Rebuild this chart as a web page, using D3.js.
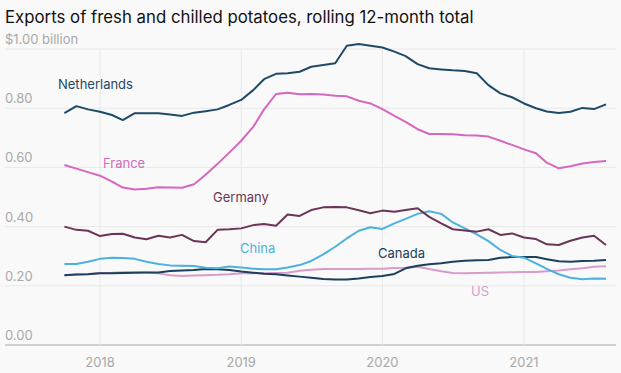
<!DOCTYPE html>
<html>
<head>
<meta charset="utf-8">
<script src="https://cdn.jsdelivr.net/npm/d3@7"></script>
<style>
  body { margin: 0; background: #f9f9f9; }
  svg { display: block; font-family: Inter, "Noto Sans", sans-serif; }
</style>
</head>
<body>
<script>
// Monthly rolling 12-month totals, Oct 2017 - Aug 2021, in $ billion
const startMonth = new Date(2017, 9, 1);

const netherlands = [0.783, 0.807, 0.796, 0.788, 0.777, 0.760, 0.783, 0.783, 0.783, 0.779, 0.774, 0.785,
  0.790, 0.796, 0.811, 0.828, 0.861, 0.898, 0.916, 0.918, 0.923, 0.940, 0.946, 0.952,
  1.011, 1.017, 1.011, 1.005, 0.991, 0.976, 0.949, 0.935, 0.931, 0.928, 0.926, 0.918,
  0.878, 0.850, 0.837, 0.816, 0.800, 0.789, 0.784, 0.788, 0.801, 0.797, 0.813];

const france = [0.608, 0.596, 0.584, 0.572, 0.552, 0.532, 0.525, 0.528, 0.533, 0.532, 0.531, 0.543,
  0.575, 0.612, 0.650, 0.690, 0.737, 0.796, 0.848, 0.852, 0.847, 0.848, 0.846, 0.842,
  0.840, 0.825, 0.816, 0.797, 0.774, 0.754, 0.729, 0.713, 0.713, 0.712, 0.709, 0.708,
  0.704, 0.690, 0.676, 0.661, 0.648, 0.616, 0.597, 0.604, 0.613, 0.618, 0.622];

const germany = [0.400, 0.389, 0.386, 0.368, 0.375, 0.376, 0.363, 0.357, 0.369, 0.363, 0.372, 0.351,
  0.347, 0.389, 0.391, 0.394, 0.405, 0.409, 0.403, 0.441, 0.436, 0.456, 0.465, 0.466,
  0.465, 0.455, 0.445, 0.454, 0.450, 0.456, 0.462, 0.433, 0.411, 0.391, 0.387, 0.383,
  0.391, 0.372, 0.377, 0.363, 0.358, 0.340, 0.338, 0.352, 0.363, 0.369, 0.338];

const china = [0.274, 0.274, 0.281, 0.291, 0.295, 0.294, 0.291, 0.281, 0.274, 0.269, 0.268, 0.267,
  0.261, 0.259, 0.265, 0.262, 0.258, 0.256, 0.256, 0.262, 0.270, 0.284, 0.306, 0.332,
  0.360, 0.386, 0.398, 0.392, 0.411, 0.426, 0.443, 0.452, 0.443, 0.414, 0.394, 0.374,
  0.351, 0.321, 0.301, 0.295, 0.276, 0.257, 0.239, 0.227, 0.222, 0.225, 0.224];

const canada = [0.236, 0.238, 0.239, 0.242, 0.242, 0.243, 0.244, 0.245, 0.245, 0.250, 0.252, 0.253,
  0.257, 0.256, 0.253, 0.248, 0.244, 0.241, 0.239, 0.235, 0.231, 0.227, 0.223, 0.221,
  0.221, 0.225, 0.230, 0.233, 0.240, 0.259, 0.268, 0.273, 0.276, 0.281, 0.285, 0.286,
  0.287, 0.295, 0.297, 0.297, 0.297, 0.290, 0.283, 0.281, 0.284, 0.285, 0.287];

const us = [0.236, 0.238, 0.240, 0.243, 0.244, 0.246, 0.246, 0.245, 0.242, 0.236, 0.233, 0.235,
  0.236, 0.237, 0.239, 0.242, 0.243, 0.242, 0.243, 0.244, 0.251, 0.254, 0.257, 0.257,
  0.257, 0.257, 0.258, 0.258, 0.260, 0.261, 0.264, 0.257, 0.249, 0.243, 0.242, 0.243,
  0.244, 0.245, 0.246, 0.247, 0.247, 0.249, 0.252, 0.256, 0.259, 0.264, 0.266];

const yTicks = [0, 0.2, 0.4, 0.6, 0.8, 1.0];
const yearTicks = [2018, 2019, 2020, 2021];

// draw order: back to front
const series = [
  { name: "US", values: us, color: "#d89cc8", label: [471, 296] },
  { name: "Canada", values: canada, color: "#1b3f5c", label: [378, 258] },
  { name: "China", values: china, color: "#4cb1e0", label: [240, 253] },
  { name: "Germany", values: germany, color: "#6a3557", label: [213, 202] },
  { name: "France", values: france, color: "#d567c0", label: [103, 168] },
  { name: "Netherlands", values: netherlands, color: "#1e4a66", label: [58, 89] }
];

const width = 621, height = 373;
const left = 5, right = 616;

const svg = d3.select("body").append("svg")
  .attr("width", width)
  .attr("height", height);

svg.append("rect").attr("width", width).attr("height", height).attr("fill", "#f9f9f9");

const monthDate = i => d3.timeMonth.offset(startMonth, i);

// x: 2018 at 100px, 2021 at 524px
const x = d3.scaleTime()
  .domain([new Date(2018, 0, 1), new Date(2021, 0, 1)])
  .range([100, 524]);

const y = d3.scaleLinear()
  .domain([0, 1])
  .range([345, 49]);

// title
svg.append("text")
  .attr("x", left)
  .attr("y", 23)
  .attr("font-size", 16.8)
  .attr("fill", "#111")
  .text("Exports of fresh and chilled potatoes, rolling 12-month total");

// horizontal gridlines
svg.append("g")
  .selectAll("line")
  .data(yTicks)
  .join("line")
  .attr("x1", left)
  .attr("x2", right)
  .attr("y1", d => y(d))
  .attr("y2", d => y(d))
  .attr("stroke", d => d === 0 ? "#aaa" : "#e8e8e8")
  .attr("stroke-width", d => d === 0 ? 1.2 : 1);

// vertical gridlines
svg.append("g")
  .selectAll("line")
  .data(yearTicks)
  .join("line")
  .attr("x1", d => x(new Date(d, 0, 1)))
  .attr("x2", d => x(new Date(d, 0, 1)))
  .attr("y1", y(1))
  .attr("y2", y(0))
  .attr("stroke", "#e8e8e8");

// y tick labels
svg.append("g")
  .selectAll("text")
  .data(yTicks)
  .join("text")
  .attr("x", left)
  .attr("y", d => y(d) - 5)
  .attr("font-size", 13)
  .attr("fill", "#a8a8a8")
  .text(d => d === 1 ? "$1.00 billion" : d3.format(".2f")(d));

// x tick labels
svg.append("g")
  .selectAll("text")
  .data(yearTicks)
  .join("text")
  .attr("x", d => x(new Date(d, 0, 1)))
  .attr("y", 367)
  .attr("text-anchor", "middle")
  .attr("font-size", 13)
  .attr("fill", "#a8a8a8")
  .text(d => d);

const line = d3.line()
  .x((d, i) => x(monthDate(i)))
  .y(d => y(d));

svg.append("g")
  .selectAll("path")
  .data(series)
  .join("path")
  .attr("fill", "none")
  .attr("stroke", d => d.color)
  .attr("stroke-width", 2)
  .attr("stroke-linejoin", "round")
  .attr("d", d => line(d.values));

// series labels
svg.append("g")
  .selectAll("text")
  .data(series)
  .join("text")
  .attr("x", d => d.label[0])
  .attr("y", d => d.label[1])
  .attr("font-size", 13)
  .attr("fill", d => d.color)
  .text(d => d.name);
</script>
</body>
</html>
